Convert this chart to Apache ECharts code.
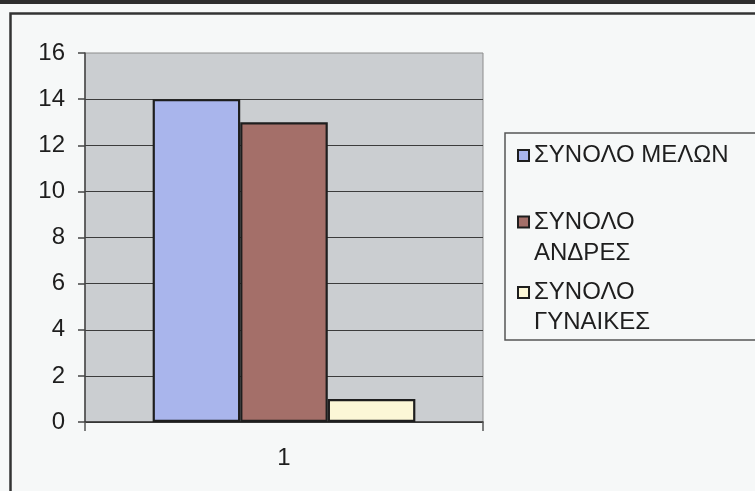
<!DOCTYPE html>
<html>
<head>
<meta charset="utf-8">
<script src="https://cdn.jsdelivr.net/npm/echarts@6/dist/echarts.min.js"></script>
<style>
  html, body { margin: 0; padding: 0; background: #f6f8f8; }
  #chart { width: 755px; height: 491px; }
</style>
</head>
<body>
<div id="chart"></div>
<script>
// ---- data ----
var categories = ['1'];
var seriesNames = ['ΣΥΝΟΛΟ ΜΕΛΩΝ', 'ΣΥΝΟΛΟ ΑΝΔΡΕΣ', 'ΣΥΝΟΛΟ ΓΥΝΑΙΚΕΣ'];
var membersTotal = [14];
var menTotal = [13];
var womenTotal = [1];
var yTicks = { min: 0, max: 16, interval: 2 };

var colors = ['#a9b5ec', '#a46f69', '#fcf7d7'];
var font = '"Liberation Sans", Arial, sans-serif';

var chart = echarts.init(document.getElementById('chart'), null, { renderer: 'canvas' });

function legendFor(idx, top, text, lh) {
  return {
    show: true,
    data: [seriesNames[idx]],
    orient: 'vertical',
    left: 517,
    top: top,
    padding: 0,
    itemWidth: 11,
    itemHeight: 11,
    icon: 'rect',
    selectedMode: false,
    itemStyle: { borderColor: '#1e1e1e', borderWidth: 2 },
    formatter: function () { return text; },
    textStyle: { fontFamily: font, fontSize: 24, color: '#1e1e1e', lineHeight: lh }
  };
}

var option = {
  animation: false,
  backgroundColor: '#f6f8f8',
  grid: {
    left: 85, right: 272, top: 53, bottom: 69,
    show: true,
    backgroundColor: '#cbced1',
    borderColor: '#8c8c8c',
    borderWidth: 1
  },
  legend: [
    legendFor(0, 140, seriesNames[0], 31),
    legendFor(1, 175.5, ' \nΣΥΝΟΛΟ\nΑΝΔΡΕΣ', 31),
    legendFor(2, 247.5, ' \nΣΥΝΟΛΟ\nΓΥΝΑΙΚΕΣ', 30)
  ],
  xAxis: {
    type: 'category',
    data: categories,
    axisLine: { show: true, lineStyle: { color: '#333', width: 1.5 } },
    axisTick: { show: true, length: 9, lineStyle: { color: '#555', width: 1.5 } },
    axisLabel: { fontFamily: font, fontSize: 24, color: '#1e1e1e', margin: 24 }
  },
  yAxis: {
    type: 'value',
    min: yTicks.min, max: yTicks.max, interval: yTicks.interval,
    axisLine: { show: true, lineStyle: { color: '#444', width: 1.5 } },
    axisTick: { show: true, length: 7, lineStyle: { color: '#444', width: 1.5 } },
    axisLabel: { fontFamily: font, fontSize: 24, color: '#1e1e1e', margin: 20 },
    splitLine: { show: true, showMaxLine: false, lineStyle: { color: '#3c3c3c', width: 1.2 } }
  },
  series: [
    { name: seriesNames[0], type: 'bar', data: membersTotal, barGap: '0%', barCategoryGap: '34%',
      itemStyle: { color: colors[0], borderColor: '#1e1e1e', borderWidth: 2.2 } },
    { name: seriesNames[1], type: 'bar', data: menTotal, barGap: '0%', barCategoryGap: '34%',
      itemStyle: { color: colors[1], borderColor: '#1e1e1e', borderWidth: 2.2 } },
    { name: seriesNames[2], type: 'bar', data: womenTotal, barGap: '0%', barCategoryGap: '34%',
      itemStyle: { color: colors[2], borderColor: '#1e1e1e', borderWidth: 2.2 } }
  ],
  graphic: [
    { type: 'rect', z: 100, silent: true, shape: { x: 0, y: 0, width: 755, height: 4 },
      style: { fill: '#2e2e2e' } },
    { type: 'rect', z: 100, silent: true, shape: { x: 10.5, y: 13.5, width: 800, height: 600 },
      style: { fill: 'none', stroke: '#333', lineWidth: 2.5 } },
    { type: 'rect', z: 100, silent: true, shape: { x: 505, y: 133, width: 300, height: 207 },
      style: { fill: 'none', stroke: '#555', lineWidth: 1.5 } }
  ]
};
chart.setOption(option);
</script>
</body>
</html>
